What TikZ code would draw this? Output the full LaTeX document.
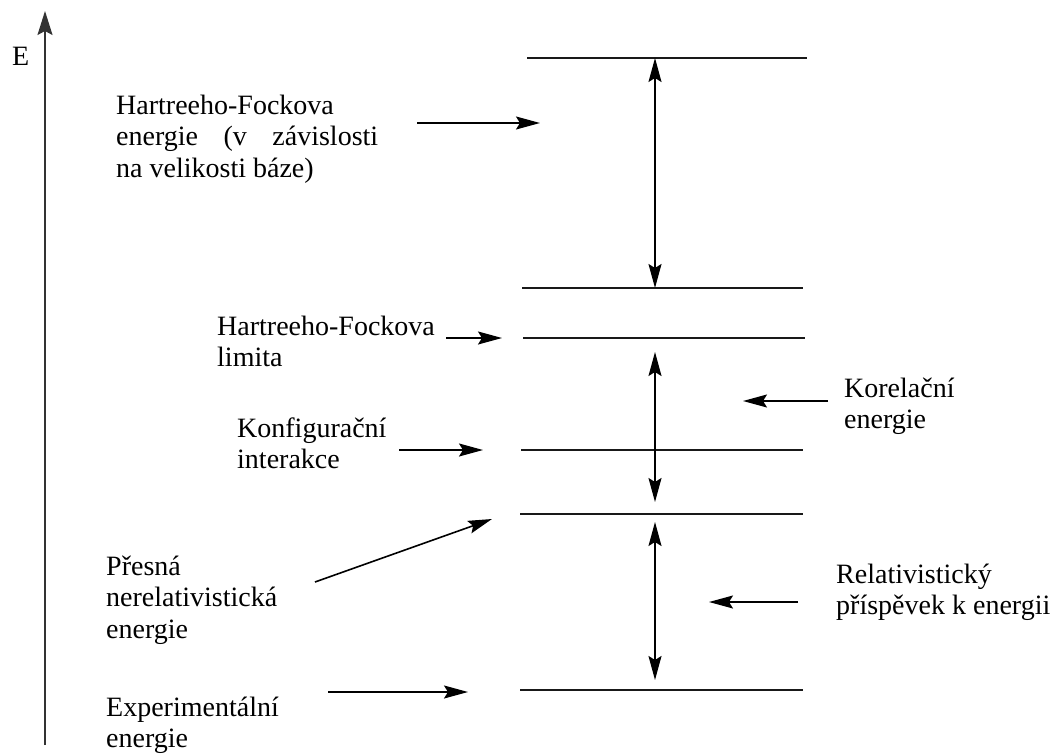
\documentclass[tikz,border=0pt]{standalone}
\usepackage{fontspec}
\setmainfont{Liberation Serif}
\usetikzlibrary{arrows.meta}
\begin{document}
\begin{tikzpicture}[x=1pt,y=-1pt,
  lbl/.style={anchor=base west,inner sep=0pt,align=left,font=\fontsize{28}{31.5}\selectfont},
  levelline/.style={line width=1.6pt,draw=black!90},
  axisline/.style={line width=1.6pt,draw=black!80,-{Stealth[length=24pt,width=15pt,inset=4pt]}},
  ptr/.style={line width=1.6pt,-{Stealth[length=24pt,width=13pt,inset=4pt]}},
  dbl/.style={line width=1.6pt,{Stealth[length=24pt,width=13pt,inset=4pt]}-{Stealth[length=24pt,width=13pt,inset=4pt]}}]
\useasboundingbox (0,0) rectangle (1055,755);
% energy axis
\coordinate (ax0) at (45,745);
\coordinate (ax1) at (45,11);
\draw[axisline] (ax0) -- (ax1);
\node[lbl] (E) at (12,65) {E};
% levels
\coordinate (l1a) at (527,58);  \coordinate (l1b) at (807,58);
\coordinate (l2a) at (522,288); \coordinate (l2b) at (803,288);
\coordinate (l3a) at (523,338); \coordinate (l3b) at (805,338);
\coordinate (l4a) at (521,450); \coordinate (l4b) at (803,450);
\coordinate (l5a) at (520,514); \coordinate (l5b) at (803,514);
\coordinate (l6a) at (520,690); \coordinate (l6b) at (803,690);
\foreach \i in {1,...,6} {\draw[levelline] (l\i a) -- (l\i b);}
% double arrows
\coordinate (d1a) at (655,58);  \coordinate (d1b) at (655,288);
\coordinate (d2a) at (655,352); \coordinate (d2b) at (655,502);
\coordinate (d3a) at (655,522); \coordinate (d3b) at (655,680);
\draw[dbl] (d1a) -- (d1b);
\draw[dbl] (d2a) -- (d2b);
\draw[dbl] (d3a) -- (d3b);
% labels (anchor = baseline of the last line)
\node[lbl] (hf) at (116,177) {Hartreeho-Fockova\\\makebox[262pt][s]{energie (v závislosti}\\na velikosti báze)};
\node[lbl] (hfl) at (217,366.5) {Hartreeho-Fockova\\limita};
\node[lbl] (ci) at (237,468.5) {Konfigurační\\interakce};
\node[lbl] (kor) at (844,428.5) {Korelační\\energie};
\node[lbl] (pres) at (106,638) {Přesná\\nerelativistická\\energie};
\node[lbl] (rel) at (836,614.5) {Relativistický\\příspěvek k energii};
\node[lbl] (exp) at (106,747.5) {Experimentální\\energie};
% pointer arrows
\coordinate (p1a) at (417,123); \coordinate (p1b) at (540,123);
\coordinate (p2a) at (446,338); \coordinate (p2b) at (502,338);
\coordinate (p3a) at (399,450); \coordinate (p3b) at (483,450);
\coordinate (p4a) at (315,582); \coordinate (p4b) at (492,519);
\coordinate (p5a) at (328,692); \coordinate (p5b) at (468,692);
\coordinate (p6a) at (828,401); \coordinate (p6b) at (743,401);
\coordinate (p7a) at (798,602); \coordinate (p7b) at (709,602);
\foreach \i in {1,...,7} {\draw[ptr] (p\i a) -- (p\i b);}
\end{tikzpicture}
\end{document}
